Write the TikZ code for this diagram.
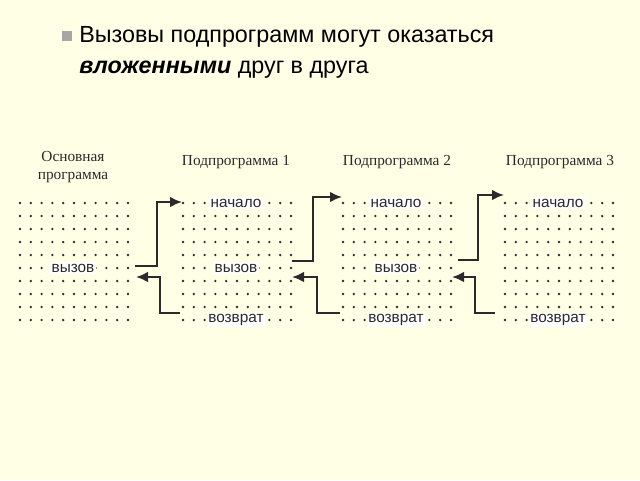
\documentclass[tikz,border=0pt]{standalone}
\usepackage{fontspec}
\setmainfont{Liberation Serif}
\newfontfamily\sansf{Liberation Sans}
\usetikzlibrary{arrows.meta}
\definecolor{bg}{HTML}{FFFFE6}
\definecolor{ink}{HTML}{2A2A2A}
\begin{document}
\begin{tikzpicture}[x=0.75pt,y=-0.75pt,
  lbl/.style={fill=white,inner sep=1pt,font=\sansf\fontsize{11.5}{13}\selectfont,text=ink},
  ttl/.style={font=\fontsize{11.5}{13}\selectfont,text=ink,align=center},
  link/.style={line width=1.6pt,draw=ink,-{Latex[length=9pt,width=8pt]}}]
\fill[bg] (0,0) rectangle (640,480);
\useasboundingbox (0,0) rectangle (640,480);
% bullet
\fill[gray!70] (62,31) rectangle (72,41);
\node[anchor=west,inner sep=0,font=\sansf\fontsize{17.5}{20}\selectfont,text=black] (b1) at (79,37) {Вызовы подпрограмм могут оказаться};
\node[anchor=west,inner sep=0,font=\sansf\fontsize{17.5}{20}\selectfont,text=black] (b2) at (79,70) {\textbf{\textit{вложенными}} друг в друга};
% titles
\node[ttl] (t0) at (73,167) {Основная\\программа};
\node[ttl] (t1) at (236,162) {Подпрограмма 1};
\node[ttl] (t2) at (397,162) {Подпрограмма 2};
\node[ttl] (t3) at (560,162) {Подпрограмма 3};
% dot grids
\foreach \x in {20,183,343,505}{
  \foreach \i in {0,...,10}{
    \foreach \j in {0,...,9}{
      \fill[ink] (\x+\i*10.8,203+\j*13) circle (1.3);
    }}}
% labels
\node[lbl] (c0) at (73,268) {вызов};
\node[lbl] (s1) at (236,203) {начало};
\node[lbl] (c1) at (236,268) {вызов};
\node[lbl] (r1) at (236,320) {возврат};
\node[lbl] (s2) at (396,203) {начало};
\node[lbl] (c2) at (396,268) {вызов};
\node[lbl] (r2) at (396,320) {возврат};
\node[lbl] (s3) at (558,203) {начало};
\node[lbl] (r3) at (558,320) {возврат};
% connector endpoints
\coordinate (a0) at (135,266); \coordinate (a1) at (182,202);
\coordinate (b0) at (180,313); \coordinate (b1e) at (136,277);
\coordinate (a2) at (292,261); \coordinate (a3) at (342,197);
\coordinate (b2s) at (340,313); \coordinate (b2e) at (292,277);
\coordinate (a4) at (458,260); \coordinate (a5) at (504,195);
\coordinate (b3s) at (495,313); \coordinate (b3e) at (452,277);
\draw[link] (a0) -- ++(22,0) |- (a1);
\draw[link] (b0) -- ++(-20,0) |- (b1e);
\draw[link] (a2) -- ++(21,0) |- (a3);
\draw[link] (b2s) -- ++(-23,0) |- (b2e);
\draw[link] (a4) -- ++(20,0) |- (a5);
\draw[link] (b3s) -- ++(-20,0) |- (b3e);
\end{tikzpicture}
\end{document}
